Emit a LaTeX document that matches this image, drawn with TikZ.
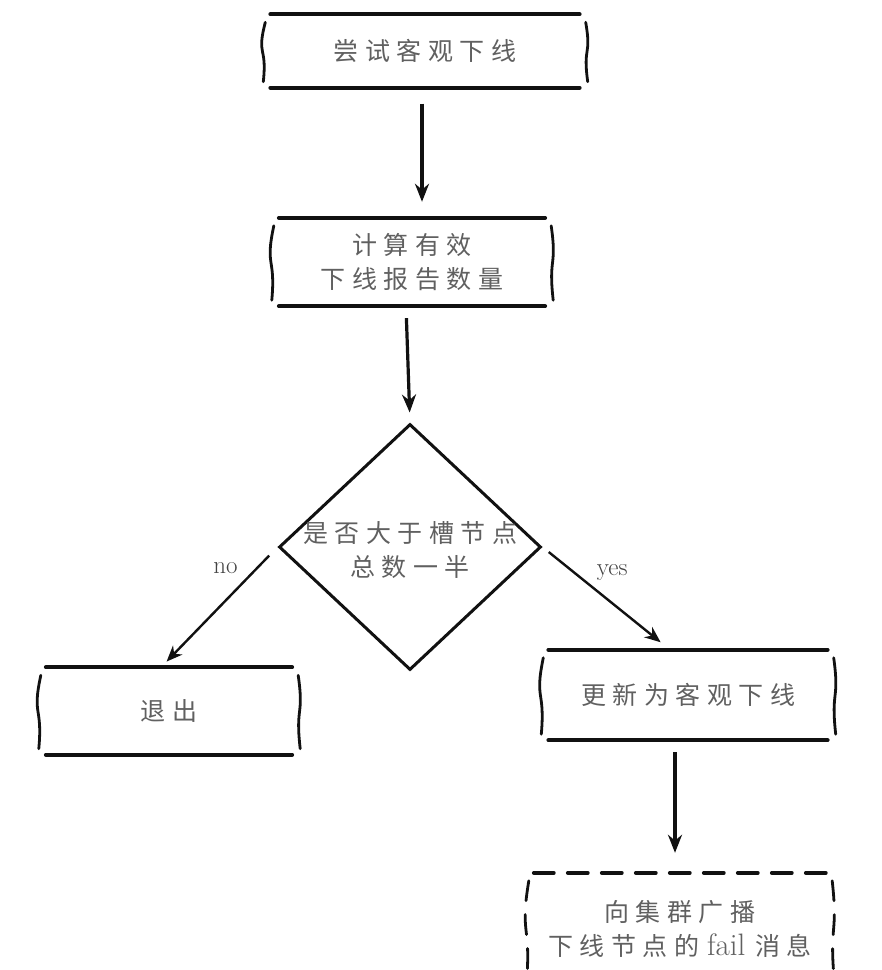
\documentclass[tikz,border=0pt]{standalone}
\usepackage{fontspec}
\usepackage{tikz}
\usetikzlibrary{positioning, arrows.meta, calc, shapes.geometric}
\usepackage{xcolor}
\newfontfamily\cjk[LetterSpace=26]{Noto Sans CJK SC}
\definecolor{sketchInk}{HTML}{111111}
\definecolor{sketchText}{HTML}{606060}

% caja "a mano": tapas gruesas y laterales curvos
\newcommand{\sketchbox}[2][]{%
  \draw[boxline, #1] ([xshift=8pt]#2.north west) -- ([xshift=-8pt]#2.north east);
  \draw[boxline, #1] ([xshift=8pt]#2.south west) -- ([xshift=-8pt]#2.south east);
  \draw[sideline, #1] ([shift={(3pt,-8pt)}]#2.north west)
    .. controls ([shift={(-6pt,-6pt)}]#2.west) and ([shift={(5pt,6pt)}]#2.west) .. ([shift={(1pt,6pt)}]#2.south west);
  \draw[sideline, #1] ([shift={(-2pt,-8pt)}]#2.north east)
    .. controls ([shift={(4pt,-6pt)}]#2.east) and ([shift={(-5pt,6pt)}]#2.east) .. ([shift={(0pt,6pt)}]#2.south east);
}

\begin{document}
\begin{tikzpicture}[x=1pt, y=-1pt,
    stepbox/.style={rectangle, inner sep=0pt, text=sketchText,
      font=\fontsize{25}{34}\selectfont\cjk, align=center},
    boxline/.style={draw=sketchInk, line width=3.8pt, line cap=round},
    sideline/.style={draw=sketchInk, line width=2.8pt, line cap=round},
    flow/.style={draw=sketchInk, line width=3.2pt, -{Stealth[length=18pt, width=14pt]}},
    branch/.style={draw=sketchInk, line width=2.4pt, -{Stealth[length=16pt, width=13pt]}},
    lbl/.style={font=\fontsize{25}{30}\selectfont, text=sketchText!70!black}]
  \useasboundingbox (0,0) rectangle (882,970);
  % Pasos
  \node[stepbox, minimum width=325pt, minimum height=73pt] (try) at (425,51) {尝试客观下线};
  \node[stepbox, minimum width=282pt, minimum height=88pt] (count) at (412,262) {计算有效\\下线报告数量};
  \node[diamond, aspect=1.06, minimum width=262pt, minimum height=246pt, inner sep=0pt,
    draw=sketchInk, line width=3pt] (check) at (410,547) {};
  \node[stepbox] (checktxt) at (410,550) {是否大于槽节点\\总数一半};
  \node[stepbox, minimum width=262pt, minimum height=87pt] (exit) at (169,711) {退出};
  \node[stepbox, minimum width=295pt, minimum height=90pt] (update) at (688,695) {更新为客观下线};
  \node[stepbox, minimum width=308pt, minimum height=112pt] (bcast) at (680,929)
    {向集群广播\\下线节点的\kern8pt{\rmfamily\fontsize{31}{34}\selectfont fail}\kern10pt消息};
  % Bordes
  \sketchbox{try}
  \sketchbox{count}
  \sketchbox{exit}
  \sketchbox{update}
  \sketchbox[dashed, dash pattern=on 20pt off 14pt]{bcast}
  % Flechas
  \draw[flow, shorten <=16pt, shorten >=16pt] ([xshift=-3pt]try.south) -- ([xshift=-3pt]try.south |- count.north);
  \draw[flow, shorten <=12pt, shorten >=10pt] ([xshift=-6pt]count.south) -- (check.north);
  \draw[branch, shorten <=12pt, shorten >=8pt] (check.west) -- ([xshift=-8pt]exit.north)
    node[lbl, pos=0.28, above left=4pt] {no};
  \draw[branch, shorten <=8pt, shorten >=12pt] (check.east) -- ([xshift=-18pt]update.north)
    node[lbl, pos=0.38, above right=2pt] {yes};
  \draw[flow, shorten <=12pt, shorten >=20pt] ([xshift=-13pt]update.south) -- ([xshift=-13pt]update.south |- bcast.north);
\end{tikzpicture}
\end{document}
